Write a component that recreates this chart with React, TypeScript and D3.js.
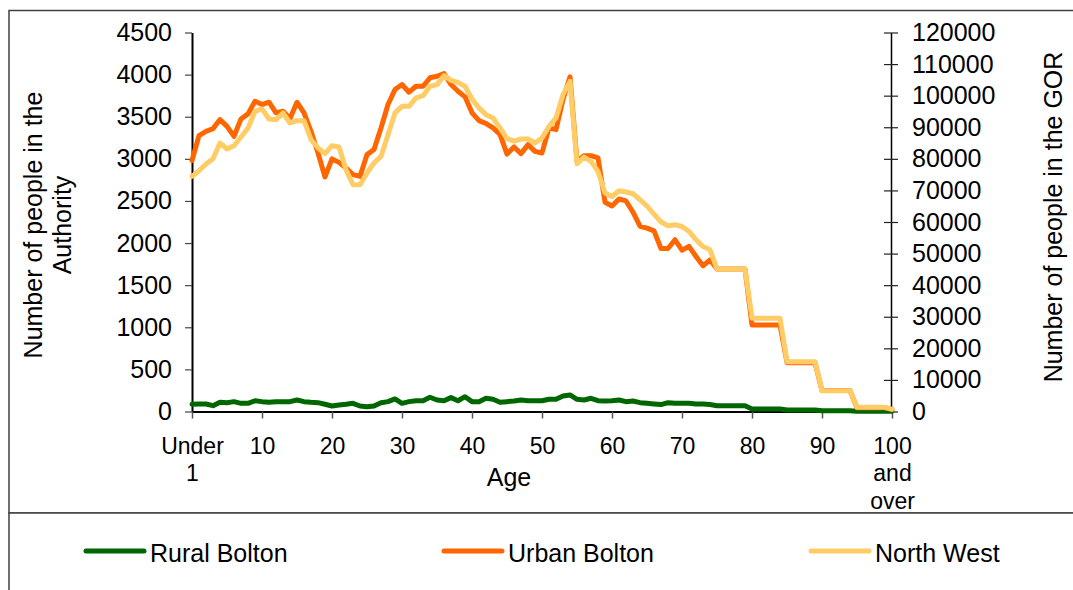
import React, { useEffect, useRef } from "react";
import * as d3 from "d3";

// categories: single years of age
const ages = ["Under 1", ...d3.range(1, 100).map(String), "100 and over"];

// wrapped tick labels shown every 10 categories
const tickLabelLines = [
  ["Under", "1"], ["10"], ["20"], ["30"], ["40"], ["50"],
  ["60"], ["70"], ["80"], ["90"], ["100", "and", "over"],
];

const leftTicks = [0, 500, 1000, 1500, 2000, 2500, 3000, 3500, 4000, 4500];
const rightTicks = [0, 10000, 20000, 30000, 40000, 50000, 60000, 70000, 80000, 90000, 100000, 110000, 120000];

// Rural Bolton (left axis)
const rural = [
  86, 89, 89, 69, 109, 105, 117, 97, 97, 128,
  117, 109, 117, 117, 117, 137, 117, 109, 105, 86,
  65, 77, 86, 97, 65, 57, 65, 105, 117, 149,
  97, 117, 128, 128, 169, 137, 128, 165, 128, 176,
  117, 117, 157, 145, 109, 117, 125, 137, 128, 128,
  128, 145, 145, 184, 196, 145, 137, 157, 128, 125,
  128, 137, 117, 125, 105, 97, 89, 82, 105, 97,
  97, 97, 89, 89, 82, 69, 69, 69, 69, 69,
  30, 30, 30, 30, 30, 18, 18, 18, 18, 18,
  9, 9, 9, 9, 9, 3, 3, 3, 3, 3,
  2,
];

// Urban Bolton (left axis)
const urban = [
  2980, 3276, 3327, 3359, 3466, 3386, 3267, 3474, 3534, 3684,
  3645, 3672, 3546, 3565, 3478, 3672, 3546, 3327, 3070, 2785,
  2999, 2958, 2890, 2812, 2792, 3050, 3110, 3367, 3645, 3823,
  3882, 3791, 3862, 3862, 3962, 3981, 4013, 3882, 3803, 3736,
  3546, 3454, 3419, 3367, 3290, 3056, 3141, 3062, 3169, 3089,
  3070, 3367, 3347, 3704, 3974, 2970, 3038, 3038, 3011, 2485,
  2440, 2523, 2500, 2366, 2200, 2178, 2145, 1935, 1935, 2039,
  1915, 1960, 1841, 1730, 1801, 1691, 1691, 1691, 1691, 1691,
  1028, 1028, 1028, 1028, 1028, 580, 580, 580, 580, 580,
  248, 248, 248, 248, 248, 45, 45, 45, 45, 45,
  26,
];

// North West (right axis, GOR)
const northWest = [
  74430, 76240, 78360, 80040, 85020, 83120, 84160, 86920, 89770, 95040,
  95800, 92630, 92400, 94530, 91360, 92090, 92090, 86070, 83440, 81630,
  84160, 83750, 76560, 71800, 71800, 75510, 78680, 80770, 87650, 94530,
  96620, 96620, 99280, 100010, 102960, 103500, 106350, 104860, 104230, 102960,
  98960, 96120, 93990, 92940, 89800, 86400, 85600, 86280, 86280, 85020,
  86600, 90280, 92940, 100330, 104550, 78460, 80580, 79190, 76020, 69170,
  68090, 69900, 69500, 68950, 67050, 65000, 62500, 60000, 58800, 59120,
  58580, 57000, 54370, 52240, 51200, 45080, 45080, 45080, 45080, 45080,
  29540, 29540, 29540, 29540, 29540, 15790, 15790, 15790, 15790, 15790,
  6600, 6600, 6600, 6600, 6600, 1330, 1330, 1330, 1330, 1330,
  700,
];

const seriesNames = ["Rural Bolton", "Urban Bolton", "North West"];
const seriesColors = ["#006600", "#ff6600", "#ffcc66"];

const FONT = "'Liberation Sans', Arial, sans-serif";
const W = 1073;
const H = 590;

const App = () => {
  const svgRef = useRef(null);

  useEffect(() => {
    const svg = d3.select(svgRef.current);
    svg.selectAll("*").remove();

    const plot = { left: 192, right: 892, top: 32.5, bottom: 411.5 };

    const x = d3.scalePoint().domain(ages).range([plot.left, plot.right]);
    const yLeft = d3.scaleLinear().domain([0, 4500]).range([plot.bottom, plot.top]);
    const yRight = d3.scaleLinear().domain([0, 120000]).range([plot.bottom, plot.top]);
    const plain = d3.format("d");

    // outer frames (chart + legend)
    svg.append("rect").attr("x", 9).attr("y", 10.5).attr("width", 1100).attr("height", 502.5)
      .attr("fill", "white").attr("stroke", "#404040").attr("stroke-width", 1.5);
    svg.append("rect").attr("x", 9).attr("y", 513).attr("width", 1100).attr("height", 100)
      .attr("fill", "white").attr("stroke", "#404040").attr("stroke-width", 1.5);

    // left axis
    const gl = svg.append("g").attr("transform", `translate(${plot.left},0)`)
      .call(d3.axisLeft(yLeft).tickValues(leftTicks).tickFormat(plain)
        .tickSize(7).tickPadding(13).tickSizeOuter(0));
    gl.select(".domain").attr("stroke", "#000").attr("stroke-width", 2);
    gl.selectAll(".tick line").attr("stroke", "#444").attr("stroke-width", 1.2);
    gl.selectAll("text").attr("font-size", 25).attr("font-family", FONT).attr("fill", "#000");

    // right axis (ticks cross the line)
    const gr = svg.append("g").attr("transform", `translate(${plot.right - 1},0)`)
      .call(d3.axisRight(yRight).tickValues(rightTicks).tickFormat(plain)
        .tickSize(7).tickPadding(14).tickSizeOuter(0));
    gr.select(".domain").attr("stroke", "#000").attr("stroke-width", 1.5);
    gr.selectAll(".tick line").attr("x1", -7).attr("stroke", "#222").attr("stroke-width", 1.2);
    gr.selectAll("text").attr("font-size", 25).attr("font-family", FONT).attr("fill", "#000");

    // bottom axis
    const shownTicks = ages.filter((_, i) => i % 10 === 0);
    const gb = svg.append("g").attr("transform", `translate(0,${plot.bottom})`)
      .call(d3.axisBottom(x).tickValues(shownTicks).tickSize(7).tickSizeOuter(0));
    gb.select(".domain").attr("stroke", "#000").attr("stroke-width", 2);
    gb.selectAll(".tick line").attr("stroke", "#555").attr("stroke-width", 1.5);
    gb.selectAll(".tick text").remove();
    gb.selectAll(".tick").each(function (_, i) {
      const t = d3.select(this).append("text")
        .attr("text-anchor", "middle")
        .attr("font-size", 23)
        .attr("font-family", FONT)
        .attr("fill", "#000");
      tickLabelLines[i].forEach((line, k) => {
        t.append("tspan").attr("x", 0).attr("y", 42 + k * 27.5).text(line);
      });
    });

    // axis titles
    svg.append("text").attr("x", 509).attr("y", 486).attr("text-anchor", "middle")
      .attr("font-size", 25).attr("font-family", FONT).text("Age");

    const lt = svg.append("text").attr("transform", "translate(0,225) rotate(-90)")
      .attr("text-anchor", "middle").attr("font-size", 25).attr("font-family", FONT);
    lt.append("tspan").attr("x", 0).attr("y", 42).text("Number of people in the");
    lt.append("tspan").attr("x", 0).attr("y", 71).text("Authority");

    svg.append("text").attr("transform", "translate(1062,217) rotate(-90)")
      .attr("text-anchor", "middle").attr("font-size", 25).attr("font-family", FONT)
      .text("Number of people in the GOR");

    // series
    const lineLeft = d3.line().x((_, i) => x(ages[i])).y((d) => yLeft(d));
    const lineRight = d3.line().x((_, i) => x(ages[i])).y((d) => yRight(d));

    [rural, urban].forEach((vals, k) => {
      svg.append("path").datum(vals).attr("d", lineLeft)
        .attr("fill", "none").attr("stroke", seriesColors[k]).attr("stroke-width", 5)
        .attr("stroke-linejoin", "round").attr("stroke-linecap", "round");
    });
    svg.append("path").datum(northWest).attr("d", lineRight)
      .attr("fill", "none").attr("stroke", seriesColors[2]).attr("stroke-width", 5)
      .attr("stroke-linejoin", "round").attr("stroke-linecap", "round");

    // legend
    const legendX = [86, 444, 811];
    seriesNames.forEach((name, k) => {
      svg.append("line").attr("x1", legendX[k]).attr("x2", legendX[k] + 58)
        .attr("y1", 551).attr("y2", 551)
        .attr("stroke", seriesColors[k]).attr("stroke-width", 5).attr("stroke-linecap", "round");
      svg.append("text").attr("x", legendX[k] + 64).attr("y", 562)
        .attr("font-size", 25).attr("font-family", FONT).text(name);
    });
  }, []);

  return (
    <div style={{ position: "absolute", left: 0, top: 0 }}>
      <svg ref={svgRef} width={W} height={H} style={{ display: "block", background: "white" }} />
    </div>
  );
};

export default App;
